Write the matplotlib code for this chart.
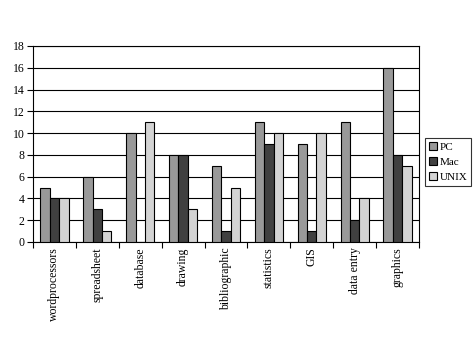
import matplotlib
matplotlib.use("Agg")
import matplotlib.pyplot as plt
import numpy as np

categories = ["wordprocessors", "spreadsheet", "database", "drawing", "bibliographic",
              "statistics", "GIS", "data entry", "graphics"]
series_names = ["PC", "Mac", "UNIX"]
pc = [5, 6, 10, 8, 7, 11, 9, 11, 16]
mac = [4, 3, 0, 8, 1, 9, 1, 2, 8]
unix = [4, 1, 11, 3, 5, 10, 10, 4, 7]
colors = ["#999999", "#404040", "#d3d3d3"]

plt.rcParams['font.family'] = ['Liberation Serif', 'DejaVu Serif']
plt.rcParams['font.size'] = 8.5

fig = plt.figure(figsize=(4.75, 3.56), dpi=100)
ax = fig.add_axes([33/475, 1-242/356, (419-33)/475, (242-46)/356])

x = np.arange(len(categories))
w = 0.22
for i, (vals, name) in enumerate(zip([pc, mac, unix], series_names)):
    ax.bar(x + (i-1)*w, vals, w, color=colors[i], edgecolor="black", linewidth=0.8,
           label=name, zorder=3)

ax.set_xlim(-0.5, len(categories)-0.5)
ax.set_ylim(0, 18)
ax.set_yticks(range(0, 19, 2))
ax.yaxis.grid(True, color="black", linewidth=0.8, zorder=0)
ax.set_axisbelow(True)

ax.set_xticks(np.arange(len(categories)+1) - 0.5)
ax.set_xticklabels([])
ax.set_xticks(x, minor=True)
ax.set_xticklabels(categories, minor=True, rotation=90, va="top", ha="center")
ax.tick_params(axis="x", which="minor", length=0, pad=4)
ax.tick_params(axis="x", which="major", length=4, direction="out", width=0.8)
ax.tick_params(axis="y", length=4, direction="out", width=0.8, pad=2)
for s in ax.spines.values():
    s.set_linewidth(0.8)
    s.set_color("black")

leg = ax.legend(loc="center right", bbox_to_anchor=(471/475, 1-162/356),
                bbox_transform=fig.transFigure, frameon=True, fancybox=False,
                edgecolor="black", borderpad=0.35, handlelength=0.7, handleheight=0.7,
                handletextpad=0.25, labelspacing=0.45, borderaxespad=0, fontsize=8)
leg.get_frame().set_linewidth(0.8)

fig.savefig("out.png", dpi=100)
